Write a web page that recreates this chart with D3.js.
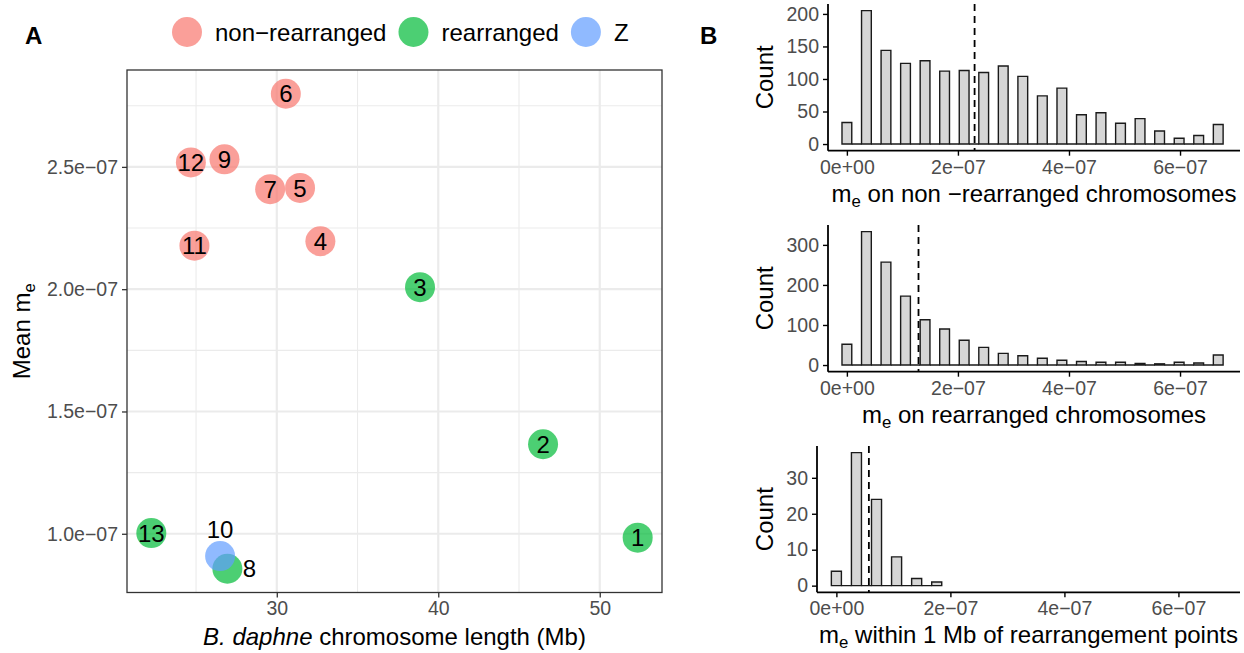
<!DOCTYPE html>
<html>
<head>
<meta charset="utf-8">
<script src="https://cdn.jsdelivr.net/npm/d3@7"></script>
<style>
  body { margin: 0; background: #fff; }
  svg { display: block; font-family: 'Liberation Sans', Arial, sans-serif; }
  .tick text { fill: #4d4d4d; font-size: 19.5px; }
</style>
</head>
<body>
<svg id="chart" width="1244" height="653"></svg>
<script>
// panel A: one point per chromosome
var chromNames  = ['1', '2', '3', '4', '5', '6', '7', '8', '9', '10', '11', '12', '13'];
var chromLength = [52.35, 46.49, 38.87, 32.70, 31.44, 30.56, 29.59, 26.94, 26.76, 26.49, 24.90, 24.68, 22.23];
var meanMe      = [0.984e-7, 1.366e-7, 2.008e-7, 2.196e-7, 2.414e-7, 2.799e-7, 2.409e-7,
                   0.857e-7, 2.531e-7, 0.909e-7, 2.178e-7, 2.518e-7, 1.003e-7];
var chromType   = ['rearranged', 'rearranged', 'rearranged', 'non\u2212rearranged', 'non\u2212rearranged',
                   'non\u2212rearranged', 'non\u2212rearranged', 'rearranged', 'non\u2212rearranged', 'Z',
                   'non\u2212rearranged', 'non\u2212rearranged', 'rearranged'];
var typeNames   = ['non\u2212rearranged', 'rearranged', 'Z'];
var xTicksA     = [30, 40, 50];
var yTicksA     = [1.0e-7, 1.5e-7, 2.0e-7, 2.5e-7];

// panel B: histogram counts (bins of equal width starting at 0)
var binWidth = 1.76e-8;
var countsNonRearr = [33, 0, 205, 0, 144, 0, 124, 0, 128, 0, 112, 0, 113, 0, 110, 0, 120, 0, 104, 0,
                      74, 0, 86, 0, 45, 0, 48, 0, 32, 0, 39, 0, 20, 0, 9, 0, 13, 0, 30];
var countsRearr    = [52, 0, 333, 0, 257, 0, 172, 0, 113, 0, 90, 0, 62, 0, 44, 0, 29, 0, 23, 0,
                      17, 0, 12, 0, 9, 0, 7, 0, 7, 0, 4, 0, 3, 0, 7, 0, 5, 0, 25];
var countsBreak    = [4, 0, 37, 0, 24, 0, 8, 0, 2, 0, 1];
var histMeans      = [2.30e-7, 1.29e-7, 0.57e-7];
var histXTicks     = [0, 2e-7, 4e-7, 6e-7];
var histYTicks     = [[0, 50, 100, 150, 200], [0, 100, 200, 300], [0, 10, 20, 30]];

var svg = d3.select('#chart');
var typeColor = d3.scaleOrdinal().domain(typeNames).range(['#F8766D', '#00BA38', '#619CFF']);
var labelNudge = {'10': [0, -27], '8': [22, 0]};

function sci(v, p) {
  if (v === 0) return (0).toFixed(p) + 'e+00';
  var parts = v.toExponential(p).split('e');
  var ex = +parts[1];
  return parts[0] + 'e' + (ex < 0 ? '\u2212' : '+') + String(Math.abs(ex)).padStart(2, '0');
}

// text with a subscript e after the leading "m"
function meText(sel, before, after) {
  if (before) sel.append('tspan').text(before);
  sel.append('tspan').text('m');
  sel.append('tspan').attr('dy', 5).attr('font-size', '70%').text('e');
  sel.append('tspan').attr('dy', -5).text(after);
}

/* ---------------- panel A ---------------- */
var pa = {left: 127, right: 662, top: 70, bottom: 592.5};

var xExt = d3.extent(chromLength), yExt = d3.extent(meanMe);
var xPad = (xExt[1] - xExt[0]) * 0.05, yPad = (yExt[1] - yExt[0]) * 0.05;
var x = d3.scaleLinear().domain([xExt[0] - xPad, xExt[1] + xPad]).range([pa.left, pa.right]);
var y = d3.scaleLinear().domain([yExt[0] - yPad, yExt[1] + yPad]).range([pa.bottom, pa.top]);

var grid = svg.append('g').attr('class', 'grid');
var xMinor = [25, 35, 45], yMinor = [1.25e-7, 1.75e-7, 2.25e-7, 2.75e-7];

grid.selectAll('.xminor').data(xMinor).join('line')
    .attr('x1', x).attr('x2', x).attr('y1', pa.top).attr('y2', pa.bottom)
    .attr('stroke', '#ebebeb').attr('stroke-width', 1.1);
grid.selectAll('.yminor').data(yMinor).join('line')
    .attr('y1', y).attr('y2', y).attr('x1', pa.left).attr('x2', pa.right)
    .attr('stroke', '#ebebeb').attr('stroke-width', 1.1);
grid.selectAll('.xmajor').data(xTicksA).join('line')
    .attr('x1', x).attr('x2', x).attr('y1', pa.top).attr('y2', pa.bottom)
    .attr('stroke', '#ebebeb').attr('stroke-width', 2.2);
grid.selectAll('.ymajor').data(yTicksA).join('line')
    .attr('y1', y).attr('y2', y).attr('x1', pa.left).attr('x2', pa.right)
    .attr('stroke', '#ebebeb').attr('stroke-width', 2.2);

var xAxisA = svg.append('g')
    .attr('transform', 'translate(0,' + pa.bottom + ')')
    .call(d3.axisBottom(x).tickValues(xTicksA).tickSize(5).tickPadding(4).tickFormat(d3.format('d')));
var yAxisA = svg.append('g')
    .attr('transform', 'translate(' + pa.left + ',0)')
    .call(d3.axisLeft(y).tickValues(yTicksA).tickSize(5).tickPadding(4).tickFormat(function(d) { return sci(d, 1); }));
[xAxisA, yAxisA].forEach(function(a) {
  a.select('.domain').remove();
  a.selectAll('.tick line').attr('stroke', '#333').attr('stroke-width', 1.3);
});

svg.append('rect')
   .attr('x', pa.left).attr('y', pa.top)
   .attr('width', pa.right - pa.left).attr('height', pa.bottom - pa.top)
   .attr('fill', 'none').attr('stroke', '#333').attr('stroke-width', 1.3);

var pts = svg.append('g').selectAll('.pt')
    .data(chromNames.map(function(n, i) { return {name: n, len: chromLength[i], me: meanMe[i], type: chromType[i]}; }))
    .join('g');

pts.append('circle')
   .attr('cx', function(d) { return x(d.len); })
   .attr('cy', function(d) { return y(d.me); })
   .attr('r', 15)
   .attr('fill', function(d) { return typeColor(d.type); })
   .attr('fill-opacity', 0.7);

pts.append('text')
   .attr('x', function(d) { return x(d.len) + (labelNudge[d.name] ? labelNudge[d.name][0] : 0); })
   .attr('y', function(d) { return y(d.me) + (labelNudge[d.name] ? labelNudge[d.name][1] : 0); })
   .attr('dy', '0.36em')
   .attr('text-anchor', 'middle')
   .attr('font-size', 24)
   .attr('fill', '#000')
   .text(function(d) { return d.name; });

var xTitle = svg.append('text')
   .attr('x', (pa.left + pa.right) / 2).attr('y', 645)
   .attr('text-anchor', 'middle').attr('font-size', 24);
xTitle.append('tspan').attr('font-style', 'italic').text('B. daphne');
xTitle.append('tspan').text(' chromosome length (Mb)');

var yTitle = svg.append('text')
   .attr('transform', 'translate(30,' + (pa.top + pa.bottom) / 2 + ') rotate(-90)')
   .attr('text-anchor', 'middle').attr('font-size', 24);
meText(yTitle, 'Mean ', '');

// legend
var legend = svg.append('g').attr('class', 'legend');
var lx = 187;
typeNames.forEach(function(t) {
  legend.append('circle').attr('cx', lx).attr('cy', 32).attr('r', 15)
        .attr('fill', typeColor(t)).attr('fill-opacity', 0.7);
  var txt = legend.append('text').attr('x', lx + 28).attr('y', 32).attr('dy', '0.36em')
        .attr('font-size', 24).text(t);
  lx = lx + 28 + txt.node().getComputedTextLength() + 27;
});

svg.append('text').attr('x', 25).attr('y', 44).attr('font-size', 24).attr('font-weight', 'bold').text('A');
svg.append('text').attr('x', 700).attr('y', 44).attr('font-size', 24).attr('font-weight', 'bold').text('B');

/* ---------------- panel B ---------------- */
var histDomain = [-3.4e-8, 7.08e-7];
var histBoxes = [
  {left: 828, right: 1240, top: 4, bottom: 150.7},
  {left: 828, right: 1240, top: 225, bottom: 371.7},
  {left: 817, right: 1240, top: 446, bottom: 592.3}
];
var histTitles = [' on non \u2212rearranged chromosomes', ' on rearranged chromosomes', ' within 1 Mb of rearrangement points'];
var histCounts = [countsNonRearr, countsRearr, countsBreak];

histCounts.forEach(function(counts, k) {
  var box = histBoxes[k];
  var hx = d3.scaleLinear().domain(histDomain).range([box.left, box.right]);
  var maxC = d3.max(counts);
  var hy = d3.scaleLinear().domain([-0.05 * maxC, 1.05 * maxC]).range([box.bottom, box.top]);
  var g = svg.append('g').attr('class', 'hist');

  g.selectAll('path.bar').data(counts).join('path')
   .attr('class', 'bar')
   .attr('d', function(d, i) {
     var x0 = hx(i * binWidth - binWidth / 2), x1 = hx(i * binWidth + binWidth / 2);
     return 'M' + x0 + ',' + hy(0) + 'V' + hy(d) + 'H' + x1 + 'V' + hy(0) + 'Z';
   })
   .attr('fill', '#d6d6d6')
   .attr('stroke', '#1a1a1a')
   .attr('stroke-width', 1.4);

  g.append('line')
   .attr('x1', hx(histMeans[k])).attr('x2', hx(histMeans[k]))
   .attr('y1', box.top).attr('y2', box.bottom)
   .attr('stroke', '#000').attr('stroke-width', 1.8).attr('stroke-dasharray', '7,5');

  var ax = g.append('g').attr('transform', 'translate(0,' + box.bottom + ')')
    .call(d3.axisBottom(hx).tickValues(histXTicks).tickSize(5).tickPadding(4).tickFormat(function(d) { return sci(d, 0); }));
  var ay = g.append('g').attr('transform', 'translate(' + box.left + ',0)')
    .call(d3.axisLeft(hy).tickValues(histYTicks[k]).tickSize(5).tickPadding(4));
  [ax, ay].forEach(function(a) {
    a.select('.domain').remove();
    a.selectAll('.tick line').attr('stroke', '#000').attr('stroke-width', 1.4);
  });

  g.append('line').attr('x1', box.left).attr('x2', box.right)
   .attr('y1', box.bottom).attr('y2', box.bottom).attr('stroke', '#000').attr('stroke-width', 1.8);
  g.append('line').attr('x1', box.left).attr('x2', box.left)
   .attr('y1', box.top).attr('y2', box.bottom).attr('stroke', '#000').attr('stroke-width', 1.8);

  var t = g.append('text').attr('x', (box.left + box.right) / 2).attr('y', box.bottom + 51)
   .attr('text-anchor', 'middle').attr('font-size', 24);
  meText(t, '', histTitles[k]);

  g.append('text')
   .attr('transform', 'translate(773,' + (box.top + box.bottom) / 2 + ') rotate(-90)')
   .attr('text-anchor', 'middle').attr('font-size', 24).text('Count');
});
</script>
</body>
</html>
